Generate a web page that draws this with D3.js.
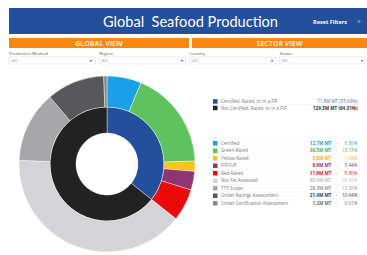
<!DOCTYPE html>
<html lang="en">
<head>
  <meta charset="UTF-8">
  <title>Global Seafood Production</title>
  <script src="https://d3js.org/d3.v7.min.js"></script>
  <style>
    body { margin: 0; background: #fff; font-family: "Open Sans", sans-serif; }
    svg { display: block; }
  </style>
</head>
<body>
  <svg id="chart" width="367" height="255"></svg>
  <script>
    // Data
    const groupNames = ["Certified, Rated, or in a FIP", "Not Certified, Rated, or in a FIP"];
    const groupValues = [71.8, 129.3];           // M MT
    const groupPct = ["35.69%", "64.31%"];
    const groupColors = ["#234f9b", "#222222"];

    const categories = ["Certified", "Green-Rated", "Yellow-Rated", "FIP/IUP", "Red-Rated",
      "Not Yet Assessed", "T75 Scope", "Under Ratings Assessment", "Under Certification Assessment"];
    const catValues = [12.7, 36.5, 3.8, 6.9, 11.9, 80.4, 26.3, 21.4, 1.2];   // M MT
    const catPct = ["6.30%", "18.15%", "1.89%", "3.44%", "5.90%", "39.98%", "13.08%", "10.64%", "0.61%"];
    const catColors = ["#1aa0e6", "#5ec35f", "#fcc419", "#8f3574", "#ea0a0a",
      "#d4d4d6", "#a7a7aa", "#58585a", "#8a8a8d"];
    const catTextColors = ["#1a9ee2", "#4fae50", "#f5b400", "#8f3574", "#e01010",
      "#c4c4c6", "#9a9a9c", "#3a3a3a", "#6f6f72"];

    const filters = [
      { label: "Production Method", value: "(All)" },
      { label: "Region", value: "(All)" },
      { label: "Country", value: "(All)" },
      { label: "Status", value: "(All)" }
    ];

    const svg = d3.select("#chart");

    // Header bar
    svg.append("rect").attr("x", 9).attr("y", 8).attr("width", 358).attr("height", 26)
      .attr("fill", "#234f9b");
    svg.append("text").attr("x", 190.5).attr("y", 27).attr("text-anchor", "middle")
      .attr("fill", "#fff").style("font-size", "16px").style("font-family", "Lato, sans-serif")
      .style("white-space", "pre")
      .attr("textLength", 175).attr("lengthAdjust", "spacingAndGlyphs")
      .text("Global  Seafood Production");
    svg.append("text").attr("x", 330).attr("y", 23.5).attr("text-anchor", "middle")
      .attr("fill", "#fff").style("font-size", "5.5px").style("font-weight", "bold")
      .text("Reset Filters");
    svg.append("text").attr("x", 359).attr("y", 24).attr("text-anchor", "middle")
      .attr("fill", "#7f9dd0").style("font-size", "7px").style("font-weight", "bold").text("×");

    // Orange section bars
    const sections = [
      { name: "GLOBAL VIEW", x: 9, w: 180 },
      { name: "SECTOR VIEW", x: 192, w: 175 }
    ];
    const secG = svg.append("g").selectAll("g").data(sections).join("g");
    secG.append("rect").attr("x", d => d.x).attr("y", 38).attr("width", d => d.w).attr("height", 10)
      .attr("fill", "#f7870f");
    secG.append("text").attr("x", d => d.x + d.w / 2).attr("y", 45.6).attr("text-anchor", "middle")
      .attr("fill", "#fde6cf").style("font-size", "7px").style("font-weight", "bold")
      .text(d => d.name);

    // Filter dropdowns
    const fx = d3.scaleBand().domain(filters.map(d => d.label)).range([9, 367]).paddingInner(0.03);
    const fg = svg.append("g").selectAll("g").data(filters).join("g")
      .attr("transform", d => `translate(${fx(d.label)},0)`);
    fg.append("text").attr("x", 0).attr("y", 54.5).attr("fill", "#555")
      .style("font-size", "4.3px").text(d => d.label);
    fg.append("rect").attr("x", 0).attr("y", 57).attr("width", fx.bandwidth() - 1).attr("height", 7)
      .attr("fill", "#fff").attr("stroke", "#d8d8d8").attr("stroke-width", 0.5);
    fg.append("text").attr("x", 2).attr("y", 62).attr("fill", "#aaa")
      .style("font-size", "4px").text(d => d.value);
    fg.append("text").attr("x", fx.bandwidth() - 6).attr("y", 62).attr("fill", "#444")
      .style("font-size", "4px").text("▾");
    svg.append("text").attr("x", 363).attr("y", 53.5).attr("text-anchor", "middle")
      .attr("fill", "#ccc").style("font-size", "4px").text("▽");

    // Donut
    const cx = 107, cy = 164;
    const rHole = 31, rMid = 57, rOuter = 88;
    const pie = d3.pie().sort(null).value(d => d);
    const donut = svg.append("g").attr("transform", `translate(${cx},${cy})`);

    const innerArc = d3.arc().innerRadius(rHole).outerRadius(rMid);
    donut.append("g").selectAll("path").data(pie(groupValues)).join("path")
      .attr("d", innerArc).attr("fill", (d, i) => groupColors[i])
      .attr("stroke", "#fff").attr("stroke-width", 0.4);

    const outerArc = d3.arc().innerRadius(rMid).outerRadius(rOuter);
    donut.append("g").selectAll("path").data(pie(catValues)).join("path")
      .attr("d", outerArc).attr("fill", (d, i) => catColors[i])
      .attr("stroke", "#fff").attr("stroke-width", 0.4);

    // Legends
    const legX = 213, valEnd = 331.5, pctEnd = 357.5;

    const y1 = d3.scalePoint().domain(groupNames).range([101.5, 108]);
    svg.append("line").attr("x1", 211).attr("x2", 360).attr("y1", 104.8).attr("y2", 104.8)
      .attr("stroke", "#eee").attr("stroke-width", 0.5);
    svg.append("line").attr("x1", 211).attr("x2", 360).attr("y1", 137.5).attr("y2", 137.5)
      .attr("stroke", "#eee").attr("stroke-width", 0.5);
    const lg1 = svg.append("g").selectAll("g").data(groupNames).join("g")
      .attr("transform", d => `translate(0,${y1(d)})`);
    lg1.append("rect").attr("x", legX).attr("y", -2.3).attr("width", 4.5).attr("height", 4.5)
      .attr("fill", (d, i) => groupColors[i]);
    lg1.append("text").attr("x", 221).attr("y", 1.6).attr("fill", "#777")
      .style("font-size", "4.6px").text(d => d);
    lg1.append("text").attr("x", pctEnd).attr("y", 1.6).attr("text-anchor", "end")
      .attr("fill", (d, i) => i === 0 ? "#3d6fc6" : "#333")
      .style("font-size", "4.6px").style("font-weight", (d, i) => i === 0 ? "normal" : "bold")
      .text((d, i) => `${groupValues[i].toFixed(1)}M MT (${groupPct[i]})`);

    const y2 = d3.scalePoint().domain(categories).range([143.3, 203.3]);
    const lg2 = svg.append("g").selectAll("g").data(categories).join("g")
      .attr("transform", d => `translate(0,${y2(d)})`);
    lg2.filter((d, i) => i < categories.length - 1).append("line")
      .attr("x1", 211).attr("x2", 360).attr("y1", 3.75).attr("y2", 3.75)
      .attr("stroke", "#eee").attr("stroke-width", 0.5);
    lg2.append("rect").attr("x", legX).attr("y", -2.3).attr("width", 4.5).attr("height", 4.5)
      .attr("fill", (d, i) => catColors[i]);
    lg2.append("text").attr("x", 221).attr("y", 1.6).attr("fill", "#777")
      .style("font-size", "4.6px").text(d => d);
    lg2.append("text").attr("x", valEnd).attr("y", 1.6).attr("text-anchor", "end")
      .attr("fill", (d, i) => catTextColors[i]).style("font-size", "4.6px").style("font-weight", "bold")
      .text((d, i) => `${catValues[i].toFixed(1)}M MT`);
    lg2.append("text").attr("x", 336.5).attr("y", 1.6).attr("text-anchor", "middle")
      .attr("fill", (d, i) => catTextColors[i]).style("font-size", "4.6px").text("-");
    lg2.append("text").attr("x", pctEnd).attr("y", 1.6).attr("text-anchor", "end")
      .attr("fill", (d, i) => catTextColors[i]).style("font-size", "4.6px")
      .text((d, i) => catPct[i]);
  </script>
</body>
</html>
